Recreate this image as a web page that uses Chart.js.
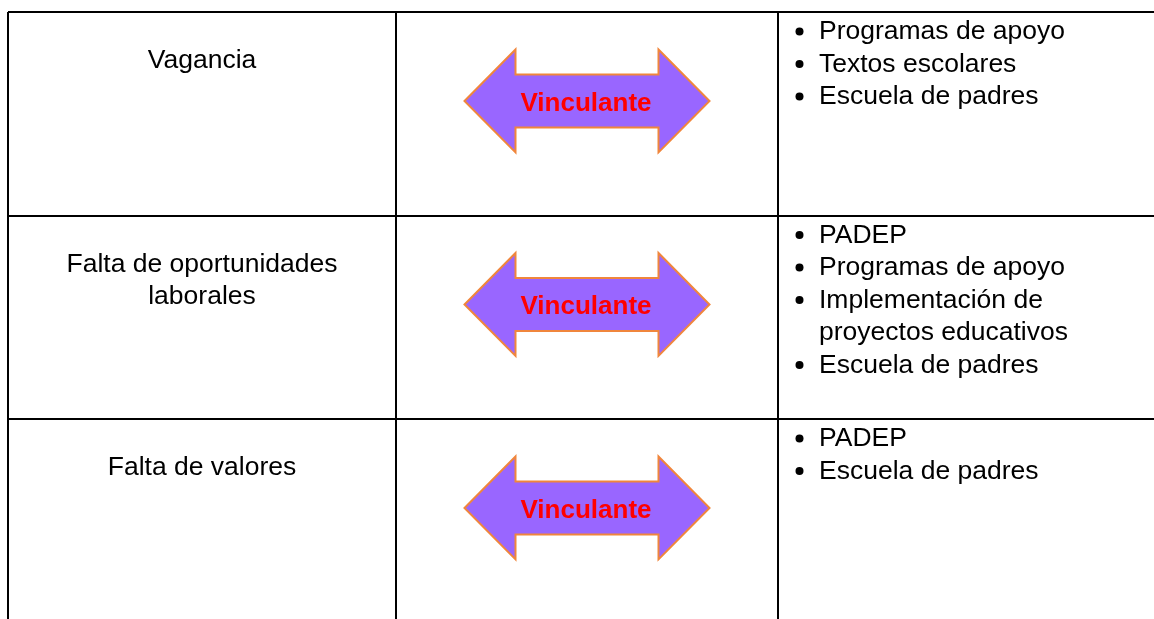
<!DOCTYPE html>
<html>
<head>
<meta charset="utf-8">
<script src="https://cdn.jsdelivr.net/npm/chart.js@4"></script>
<style>
  html, body { margin: 0; padding: 0; background: #fff; font-family: "Liberation Sans", Arial, sans-serif; }
  #wrap { width: 1154px; height: 619px; position: relative; }
</style>
</head>
<body>
<div id="wrap"><canvas id="chart"></canvas></div>
<script>
// table content
const problems = [
  ["Vagancia"],
  ["Falta de oportunidades", "laborales"],
  ["Falta de valores"]
];
const linkLabels = ["Vinculante", "Vinculante", "Vinculante"];
const actions = [
  [["Programas de apoyo"], ["Textos escolares"], ["Escuela de padres"]],
  [["PADEP"], ["Programas de apoyo"], ["Implementación de", "proyectos educativos"], ["Escuela de padres"]],
  [["PADEP"], ["Escuela de padres"]]
];

/* LAYOUT (x in px from the table's left border, y in rows) */
const colEdges = [0, 388, 770];
const rowEdges = [0, 1, 2];
const ROW_PX = 203.5;
const LINE_H = 32.5;
const ARROW_DY = 0.437; // arrow centre, fraction of a row
const FONT = "26.5px 'Liberation Sans', Arial, sans-serif";
const BOLD = "bold 26px 'Liberation Sans', Arial, sans-serif";

const arrowX = (colEdges[1] + colEdges[2]) / 2;

const tablePlugin = {
  id: "tableText",
  afterDatasetsDraw(chart) {
    const { ctx, scales: { x, y } } = chart;
    const c0 = x.getPixelForValue(colEdges[0]);
    const c1 = x.getPixelForValue(colEdges[1]);
    const c2 = x.getPixelForValue(colEdges[2]);

    ctx.save();
    ctx.fillStyle = "#000";
    ctx.font = FONT;
    ctx.textBaseline = "alphabetic";

    // first column: problems, centred
    ctx.textAlign = "center";
    problems.forEach((lines, i) => {
      const top = y.getPixelForValue(rowEdges[i]);
      lines.forEach((t, k) => ctx.fillText(t, (c0 + c1) / 2, top + 56 + k * LINE_H));
    });

    // third column: bullet lists
    ctx.textAlign = "left";
    actions.forEach((items, i) => {
      let base = y.getPixelForValue(rowEdges[i]) + 27;
      items.forEach(lines => {
        ctx.beginPath();
        ctx.arc(c2 + 21.5, base - 7.5, 4, 0, Math.PI * 2);
        ctx.fill();
        lines.forEach(t => {
          ctx.fillText(t, c2 + 41, base);
          base += LINE_H;
        });
      });
    });

    // arrows with label
    const meta = chart.getDatasetMeta(0);
    meta.data.forEach((pt, i) => {
      const { x: cx, y: cy } = pt.getProps(["x", "y"], true);
      const hw = 122.5, hh = 51.5, sh = 26.5, head = 51;
      ctx.beginPath();
      ctx.moveTo(cx - hw, cy);
      ctx.lineTo(cx - hw + head, cy - hh);
      ctx.lineTo(cx - hw + head, cy - sh);
      ctx.lineTo(cx + hw - head, cy - sh);
      ctx.lineTo(cx + hw - head, cy - hh);
      ctx.lineTo(cx + hw, cy);
      ctx.lineTo(cx + hw - head, cy + hh);
      ctx.lineTo(cx + hw - head, cy + sh);
      ctx.lineTo(cx - hw + head, cy + sh);
      ctx.lineTo(cx - hw + head, cy + hh);
      ctx.closePath();
      ctx.fillStyle = "#9966FF";
      ctx.fill();
      ctx.strokeStyle = "#F0863C";
      ctx.lineWidth = 2;
      ctx.stroke();

      ctx.fillStyle = "#FF0000";
      ctx.font = BOLD;
      ctx.textAlign = "center";
      ctx.textBaseline = "alphabetic";
      ctx.fillText(linkLabels[i], cx - 1, cy + 10);
    });
    ctx.restore();
  }
};

function setTicks(values) {
  return scale => { scale.ticks = values.map(v => ({ value: v })); };
}

const gridOpts = { color: "#000", lineWidth: 2, drawTicks: false };

function draw() {
  new Chart(document.getElementById("chart"), {
    type: "scatter",
    data: {
      datasets: [{
        data: problems.map((p, i) => ({ x: arrowX, y: rowEdges[i] + ARROW_DY })),
        pointRadius: 0,
        pointHoverRadius: 0
      }]
    },
    options: {
      responsive: true,
      maintainAspectRatio: false,
      animation: false,
      events: [],
      layout: { padding: { top: 12, left: 8, right: 0, bottom: 0 } },
      plugins: { legend: { display: false }, tooltip: { enabled: false } },
      scales: {
        x: {
          type: "linear", min: 0, max: 1146,
          afterBuildTicks: setTicks(colEdges),
          ticks: { display: false },
          border: { display: false },
          grid: gridOpts
        },
        y: {
          type: "linear", min: 0, max: 607 / ROW_PX, reverse: true,
          afterBuildTicks: setTicks(rowEdges),
          ticks: { display: false },
          border: { display: false },
          grid: gridOpts
        }
      }
    },
    plugins: [tablePlugin]
  });
}

// make sure the system font is ready before the canvas uses it
Promise.all([document.fonts.load(FONT), document.fonts.load(BOLD)])
  .catch(() => {})
  .then(draw);
</script>
</body>
</html>
